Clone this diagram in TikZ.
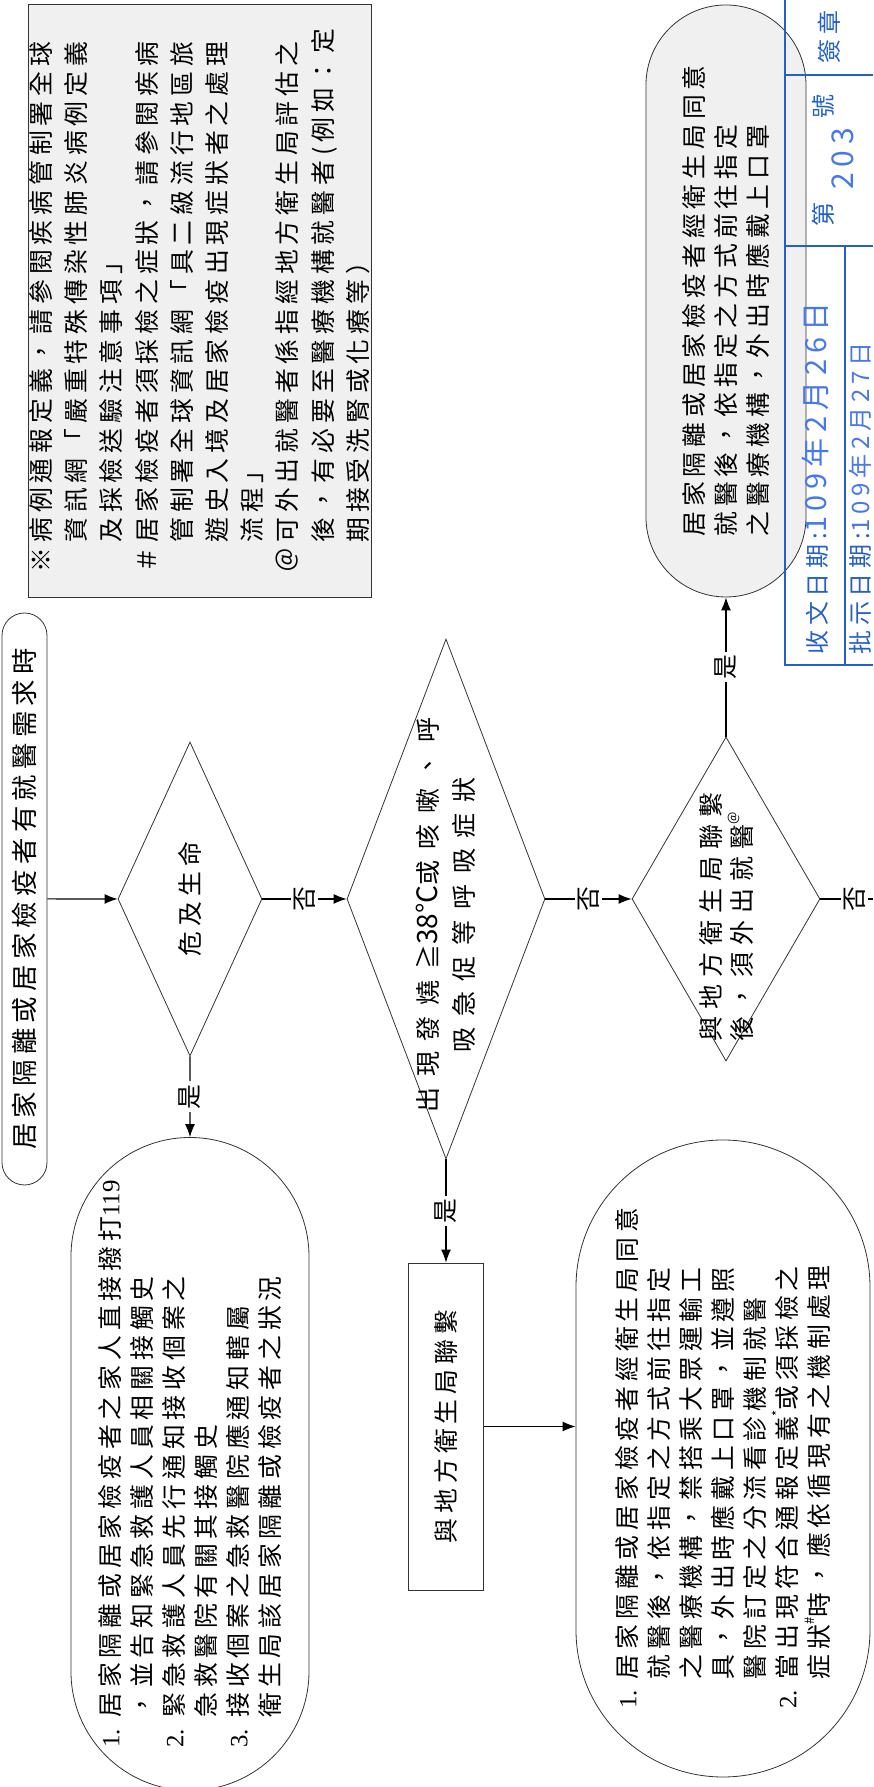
\documentclass[tikz,border=0pt]{standalone}
\usepackage{fontspec}
\setmainfont{Noto Sans CJK TC}[LetterSpace=20]
\newfontfamily\lat{Liberation Serif}
\usetikzlibrary{shapes.geometric,shapes.misc,arrows.meta}
\definecolor{stampblue}{RGB}{36,96,200}
\definecolor{penblue}{RGB}{70,120,235}
\newcommand{\nr}[1]{\makebox[29.8pt][l]{\lat #1}}
\newcommand{\tinymark}[1]{\raisebox{0.55em}{\fontsize{13}{13}\selectfont #1}}
\tikzset{
  box/.style={draw=black!80, line width=0.8pt, inner sep=0pt},
  dia/.style={box, diamond},
  pill/.style={box, rounded rectangle},
  word/.style={font=\fontsize{24.8}{32}\selectfont, align=left, inner sep=0pt},
  flow/.style={line width=1.1pt, -{Latex[length=13pt,width=10pt]}},
  yn/.style={fill=white, inner sep=3pt, font=\fontsize{24.8}{30}\selectfont},
  stamp/.style={text=stampblue, font=\fontsize{24}{28}\selectfont, inner sep=0pt},
}

\begin{document}
\begin{tikzpicture}[x=1pt,y=1pt]
\begin{scope}[rotate=90, transform shape]
\useasboundingbox (0,0) rectangle (1787,873);

% footnotes
\node[box, fill=gray!12, minimum width=593pt, minimum height=343pt, word, font=\fontsize{24.8}{35.2}\selectfont] (notes) at (1486.5,673.5) {※病例通報定義，請參閱疾病管制署全球\\
　資訊網「嚴重特殊傳染性肺炎病例定義\\
　及採檢送驗注意事項」\\
＃居家檢疫者須採檢之症狀，請參閱疾病\\
　管制署全球資訊網「具二級流行地區旅\\
　遊史入境及居家檢疫出現症狀者之處理\\
　流程」\\
＠可外出就醫者係指經地方衛生局評估之\\
　後，有必要至醫療機構就醫者(例如：定\\
　期接受洗腎或化療等）};

% start
\node[pill, minimum width=572pt, minimum height=45pt, font=\fontsize{26.4}{30}\selectfont] (ask) at (888,848.5) {居家隔離或居家檢疫者有就醫需求時};

% decisions
\node[dia, minimum width=314pt, minimum height=144pt] (life) at (888,683) {};
\node[word] (lifetxt) at (life) {危及生命};
\node[dia, minimum width=520pt, minimum height=198pt] (fever) at (888,427) {};
\node[word, align=center, font=\fontsize{25}{36}\selectfont\addfontfeature{LetterSpace=43}] (fevertxt) at (872,427) {出現發燒≧{\addfontfeature{LetterSpace=0}\fontsize{28}{36}\selectfont 38°C}或咳嗽、呼\\吸急促等呼吸症狀};
\node[dia, minimum width=324pt, minimum height=188pt] (contact) at (888,147) {};
\node[word, font=\fontsize{25}{31}\selectfont\addfontfeature{LetterSpace=28}] (contacttxt) at (870,147) {與地方衛生局聯繫\\後，須外出就醫\tinymark{@}};

% outcomes
\node[pill, minimum width=622pt, minimum height=238pt, word] (emerg) at (323,683) {\nr{1.}居家隔離或居家檢疫者之家人直接撥打{\lat 119}\\
　，並告知緊急救護人員相關接觸史\\
\nr{2.}緊急救護人員先行通知接收個案之\\
　急救醫院有關其接觸史\\
\nr{3.}接收個案之急救醫院應通知轄屬\\
　衛生局該居家隔離或檢疫者之狀況};
\node[box, minimum width=327pt, minimum height=75pt, word] (bureau) at (360.5,427) {與地方衛生局聯繫};
\node[pill, minimum width=637pt, minimum height=294pt, word] (rules) at (328.5,150) {\nr{1.}居家隔離或居家檢疫者經衛生局同意\\
　就醫後，依指定之方式前往指定\\
　之醫療機構，禁搭乘大眾運輸工\\
　具，外出時應戴上口罩，並遵照\\
　醫院訂定之分流看診機制就醫\\
\nr{2.}當出現符合通報定義\tinymark{*}或須採檢之\\
　症狀\tinymark{\#}時，應依循現有之機制處理};
\node[pill, fill=gray!12, minimum width=592pt, minimum height=160pt, word] (outing) at (1486,147) {居家隔離或居家檢疫者經衛生局同意\\
就醫後，依指定之方式前往指定\\
之醫療機構，外出時應戴上口罩};

% connectors
\coordinate (edge) at (888,0);
\draw[flow] (ask) -- (life);
\draw[flow] (life) -- node[yn]{否} (fever);
\draw[flow] (fever) -- node[yn]{否} (contact);
\draw[line width=1.1pt] (contact) -- node[yn, pos=0.65]{否} (edge);
\draw[flow] (life) -- node[yn]{是} (emerg);
\draw[flow] (fever) -- node[yn]{是} (bureau);
\draw[flow] (contact) -- node[yn]{是} (outing);
\draw[flow] (bureau.south) -- (bureau.south |- rules.north);

% receipt stamp
\draw[stampblue, line width=2pt] (1787,88) -- (1122,88) -- (1122,0);
\draw[stampblue, line width=1.2pt] (1122,28) -- (1541,28) (1541,0) -- (1541,88) (1712,0) -- (1712,88);
\node[stamp, anchor=west] (recv) at (1132,58) {收文日期:\textcolor{penblue}{\fontsize{29}{30}\selectfont 109年2月26日}};
\node[stamp, anchor=west] (sign) at (1132,13) {批示日期:\textcolor{penblue}{109年2月27日}};
\node[stamp] (num) at (1626,50) {第\hspace{84pt}號};
\node[stamp, text=penblue, font=\fontsize{30}{30}\selectfont] (numhand) at (1628,30) {203};
\node[stamp] (seal) at (1750,44) {簽章};
\end{scope}
\end{tikzpicture}
\end{document}
